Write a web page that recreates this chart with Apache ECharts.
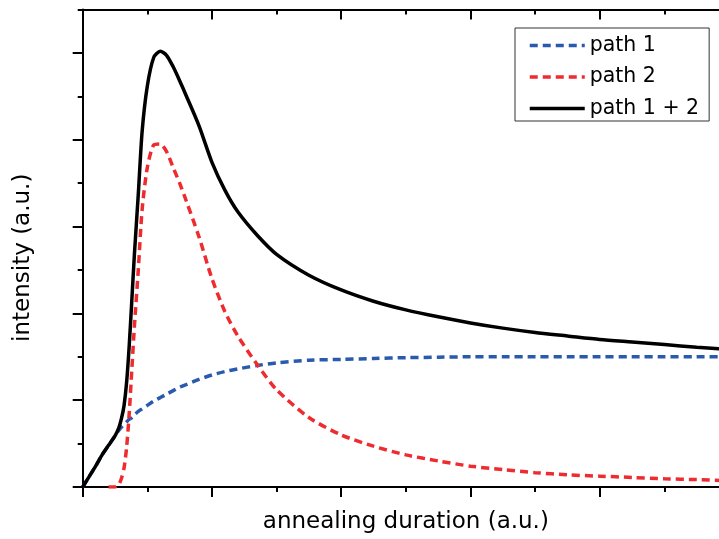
<!DOCTYPE html>
<html>
<head>
<meta charset="utf-8">
<script src="https://cdn.jsdelivr.net/npm/echarts@6/dist/echarts.min.js"></script>
<style>
  html, body { margin: 0; padding: 0; background: #fff; overflow: hidden; }
  /* the frame runs a little past the right edge of the window, so the right axis sits just off-screen */
  #chart { width: 745px; height: 539px; }
</style>
</head>
<body>
<div id="chart"></div>
<script>
// Annealing duration samples (a.u.)
const durations = [0, 0.05, 0.1, 0.15, 0.2, 0.25, 0.28, 0.3, 0.32, 0.34, 0.36, 0.38, 0.4, 0.43, 0.46, 0.5, 0.55, 0.6, 0.65, 0.7, 0.75, 0.8, 0.9, 1.0, 1.1, 1.2, 1.35, 1.5, 1.75, 2.0, 2.25, 2.5, 2.75, 3.0, 3.25, 3.5, 3.75, 4.0, 4.25, 4.5, 4.75, 5.0];

// Intensity of path 1 (saturating growth)
const path1 = [0, 0.12, 0.24, 0.37, 0.48, 0.59, 0.655, 0.69, 0.72, 0.75, 0.78, 0.80, 0.83, 0.87, 0.90, 0.94, 0.99, 1.03, 1.07, 1.11, 1.15, 1.18, 1.24, 1.29, 1.33, 1.36, 1.40, 1.43, 1.46, 1.47, 1.48, 1.49, 1.495, 1.50, 1.50, 1.50, 1.50, 1.50, 1.50, 1.50, 1.50, 1.50];

// Intensity of path 2 (delayed onset, transient peak)
const path2 = [null, null, null, null, 0, 0, 0.03, 0.1, 0.22, 0.46, 0.85, 1.35, 1.85, 2.5, 3.2, 3.68, 3.94, 3.95, 3.86, 3.68, 3.5, 3.3, 2.88, 2.4, 2.02, 1.74, 1.41, 1.12, 0.8, 0.6, 0.47, 0.37, 0.3, 0.24, 0.2, 0.165, 0.14, 0.125, 0.11, 0.095, 0.085, 0.072];

// Combined intensity, path 1 + 2
const pathSum = [0, 0.12, 0.24, 0.37, 0.48, 0.59, 0.685, 0.79, 0.94, 1.21, 1.63, 2.15, 2.68, 3.37, 4.1, 4.62, 4.95, 5.02, 4.97, 4.84, 4.68, 4.51, 4.16, 3.74, 3.42, 3.17, 2.9, 2.68, 2.44, 2.27, 2.14, 2.04, 1.96, 1.89, 1.83, 1.78, 1.74, 1.70, 1.67, 1.64, 1.61, 1.585];

// Tick positions on the intensity axis (no labels are printed)
const yMajorTicks = [0, 1, 2, 3, 4, 5];
const yMinorTicks = [0.5, 1.5, 2.5, 3.5, 4.5, 5.5];

const seriesNames = ['path 1', 'path 2', 'path 1 + 2'];

const pairs = (ys) => durations
  .map((d, i) => [d, ys[i]])
  .filter((p) => p[1] !== null);

const FONT = 'DejaVu Sans';
const axisColor = '#000';

const hiddenAxisBase = {
  axisLabel: { show: false },
  splitLine: { show: false }
};

const chart = echarts.init(document.getElementById('chart'), null, { renderer: 'canvas' });

chart.setOption({
  animation: false,
  backgroundColor: '#fff',
  grid: { left: 82.7, top: 9.5, width: 646.3, height: 477.5, containLabel: false },
  legend: {
    orient: 'vertical',
    left: 515,
    top: 28,
    width: 194,
    padding: [7, 10, 2, 13],
    itemWidth: 55,
    itemHeight: 20,
    itemGap: 10.5,
    backgroundColor: '#fff',
    borderColor: '#333',
    borderWidth: 1,
    borderRadius: 0,
    itemStyle: { opacity: 0, borderWidth: 0 },
    lineStyle: { width: 3.5 },
    textStyle: { fontFamily: FONT, fontSize: 20.5, color: '#000' },
    data: seriesNames
  },
  xAxis: [
    {
      type: 'value', min: 0, max: 5, interval: 1, position: 'bottom',
      name: 'annealing duration (a.u.)', nameLocation: 'middle', nameGap: 24,
      nameTextStyle: { fontFamily: FONT, fontSize: 23, color: '#000' },
      axisLine: { show: true, onZero: false, lineStyle: { color: axisColor, width: 2 } },
      axisTick: { show: true, inside: false, length: 10, lineStyle: { color: axisColor, width: 2 } },
      minorTick: { show: true, splitNumber: 2, length: 5, lineStyle: { color: axisColor, width: 2 } },
      ...hiddenAxisBase
    },
    {
      type: 'value', min: 0, max: 5, interval: 1, position: 'top',
      axisLine: { show: true, onZero: false, lineStyle: { color: axisColor, width: 2 } },
      axisTick: { show: true, inside: true, length: 10, lineStyle: { color: axisColor, width: 2 } },
      minorTick: { show: true, splitNumber: 2, length: 5, lineStyle: { color: axisColor, width: 2 } },
      ...hiddenAxisBase
    }
  ],
  yAxis: [
    {
      type: 'value', min: 0, max: 5.5, interval: 1, position: 'left',
      name: 'intensity (a.u.)', nameLocation: 'middle', nameGap: 48,
      nameTextStyle: { fontFamily: FONT, fontSize: 23, color: '#000', padding: [0, 19, 0, 0] },
      axisLine: { show: true, onZero: false, lineStyle: { color: axisColor, width: 2 } },
      axisTick: { show: true, inside: false, length: 10, customValues: yMajorTicks, lineStyle: { color: axisColor, width: 2 } },
      ...hiddenAxisBase
    },
    {
      type: 'value', min: 0, max: 5.5, interval: 1, position: 'right',
      axisLine: { show: true, onZero: false, lineStyle: { color: axisColor, width: 2 } },
      axisTick: { show: true, inside: true, length: 10, customValues: yMajorTicks, lineStyle: { color: axisColor, width: 2 } },
      ...hiddenAxisBase
    },
    {
      type: 'value', min: 0, max: 5.5, interval: 1, position: 'left',
      axisLine: { show: false },
      axisTick: { show: true, inside: false, length: 5, customValues: yMinorTicks, lineStyle: { color: axisColor, width: 2 } },
      ...hiddenAxisBase
    }
  ],
  series: [
    {
      name: seriesNames[0], type: 'line', xAxisIndex: 0, yAxisIndex: 0,
      data: pairs(path1), symbol: 'none', smooth: 0.25, z: 3,
      lineStyle: { color: '#2a5aad', width: 3.5, type: [8, 5] },
      itemStyle: { color: '#2a5aad' }
    },
    {
      name: seriesNames[1], type: 'line', xAxisIndex: 0, yAxisIndex: 0,
      data: pairs(path2), symbol: 'none', smooth: 0.25, z: 3,
      lineStyle: { color: '#ee2b2f', width: 3.5, type: [8, 5] },
      itemStyle: { color: '#ee2b2f' }
    },
    {
      name: seriesNames[2], type: 'line', xAxisIndex: 0, yAxisIndex: 0,
      data: pairs(pathSum), symbol: 'none', smooth: 0.25, z: 4,
      lineStyle: { color: '#000', width: 3.5, type: 'solid' },
      itemStyle: { color: '#000' }
    }
  ]
});
</script>
</body>
</html>
